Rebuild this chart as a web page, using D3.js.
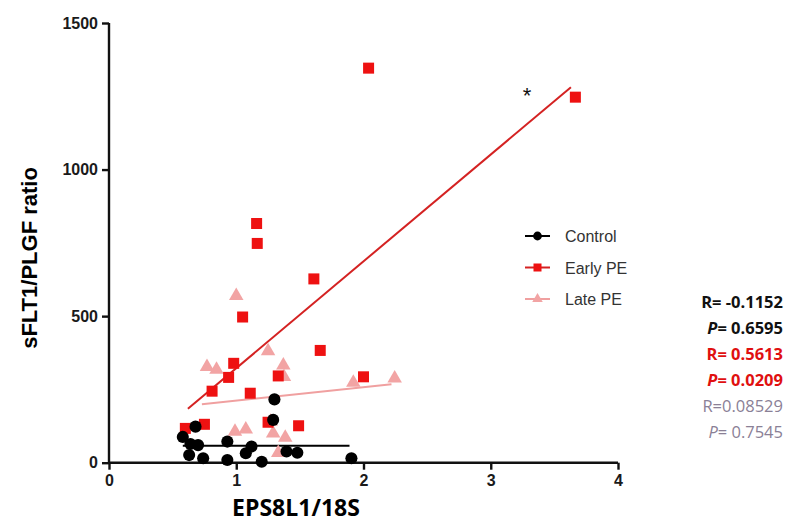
<!DOCTYPE html>
<html>
<head>
<meta charset="utf-8">
<script src="https://cdn.jsdelivr.net/npm/d3@7"></script>
<style>
  body { margin: 0; background: #fff; }
  svg { font-family: "Liberation Sans", Arial, sans-serif; }
</style>
</head>
<body>
<svg id="chart" width="785" height="522"></svg>
<script>
// values
const controlPts = [
  [0.58, 88], [0.68, 123], [0.64, 64], [0.70, 60], [0.63, 26], [0.74, 15],
  [0.93, 72], [0.93, 9], [1.12, 55], [1.075, 32], [1.20, 3], [1.30, 216],
  [1.29, 146], [1.395, 38], [1.48, 34], [1.905, 15]
];
const earlyPts = [
  [0.60, 117], [0.75, 131], [0.81, 244], [0.94, 291], [0.98, 339], [1.05, 497],
  [1.11, 237], [1.16, 816], [1.165, 748], [1.25, 138], [1.33, 296], [1.49, 126],
  [1.61, 627], [1.66, 383], [2.00, 293], [2.04, 1346], [3.665, 1247]
];
const latePts = [
  [0.77, 327], [0.845, 318], [1.00, 569], [1.25, 381], [1.37, 332], [1.375, 293],
  [0.99, 106], [1.075, 114], [1.29, 100], [1.385, 86], [1.33, 34], [1.27, 140],
  [1.92, 273], [2.245, 288]
];
// fitted lines (start, end)
const controlFit = [[0.58, 58], [1.89, 58]];
const earlyFit = [[0.62, 184], [3.63, 1281]];
const lateFit = [[0.73, 199], [2.22, 268]];

const xTicks = [0, 1, 2, 3, 4];
const yTicks = [0, 500, 1000, 1500];
const legendNames = ["Control", "Early PE", "Late PE"];
const statLines = [
  {r: "R=", v: " -0.1152", italic: false},
  {r: "P", v: "= 0.6595", italic: true},
  {r: "R=", v: " 0.5613", italic: false},
  {r: "P", v: "= 0.0209", italic: true},
  {r: "R=", v: "0.08529", italic: false},
  {r: "P", v: "= 0.7545", italic: true}
];

const colors = {"Control": "#000000", "Early PE": "#ee1111", "Late PE": "#f2a4a4"};
const lineColors = {"Control": "#000000", "Early PE": "#d42222", "Late PE": "#f0a0a0"};

const svg = d3.select("#chart");
const margin = {left: 109, top: 23, right: 167, bottom: 59};

const x = d3.scaleLinear().domain([0, 4]).range([margin.left, 618]);
const y = d3.scaleLinear().domain([0, 1500]).range([462.7, margin.top]);

// axes
const xAxis = svg.append("g")
  .attr("transform", "translate(0," + y(0) + ")")
  .call(d3.axisBottom(x).tickValues(xTicks).tickSize(7).tickPadding(5).tickFormat(d3.format("d")));
const yAxis = svg.append("g")
  .attr("transform", "translate(" + x(0) + ",0)")
  .call(d3.axisLeft(y).tickValues(yTicks).tickSize(7).tickPadding(4).tickFormat(d3.format("d")));

[xAxis, yAxis].forEach(a => {
  a.select(".domain").attr("stroke", "#111").attr("stroke-width", 2.4);
  a.selectAll(".tick line").attr("stroke", "#111").attr("stroke-width", 2.4);
  a.selectAll(".tick text").attr("fill", "#1a1a1a")
    .style("font-family", "'Liberation Sans', Arial, sans-serif")
    .style("font-size", "16px").style("font-weight", "bold");
});
// plain spines, no outer ticks
xAxis.select(".domain").attr("d", "M" + x(0) + ",0H" + x(4));
yAxis.select(".domain").attr("d", "M0," + y(0) + "V" + y(1500));

// axis titles
svg.append("text")
  .attr("x", 296).attr("y", 516)
  .attr("text-anchor", "middle")
  .style("font-family", "'Open Sans', sans-serif")
  .style("font-size", "23px").style("font-weight", "bold")
  .attr("fill", "#000")
  .text("EPS8L1/18S");

svg.append("text")
  .attr("transform", "translate(37,258) rotate(-90)")
  .attr("text-anchor", "middle")
  .style("font-family", "'Liberation Sans', Arial, sans-serif")
  .style("font-size", "22px").style("font-weight", "bold")
  .attr("fill", "#000")
  .text("sFLT1/PLGF ratio");

// fit lines
const line = d3.line().x(d => x(d[0])).y(d => y(d[1]));
const fits = [["Late PE", lateFit], ["Control", controlFit], ["Early PE", earlyFit]];
svg.append("g").selectAll("path")
  .data(fits)
  .enter()
  .append("path")
  .attr("d", d => line(d[1]))
  .attr("fill", "none")
  .attr("stroke", d => lineColors[d[0]])
  .attr("stroke-width", 2);

// points
function drawMarker(sel, name, size){
  if (name === "Control"){
    sel.append("circle").attr("r", size * 0.55).attr("fill", colors[name]);
  } else if (name === "Early PE"){
    sel.append("rect")
      .attr("x", -size / 2).attr("y", -size / 2)
      .attr("width", size).attr("height", size)
      .attr("fill", colors[name]);
  } else {
    sel.append("path")
      .attr("d", d3.symbol().type(d3.symbolTriangle).size(size * size * 0.75)())
      .attr("fill", colors[name]);
  }
}

const groups = [["Late PE", latePts], ["Early PE", earlyPts], ["Control", controlPts]];
groups.forEach(g => {
  svg.append("g").selectAll("g.pt")
    .data(g[1])
    .enter()
    .append("g")
    .attr("class", "pt")
    .attr("transform", d => "translate(" + x(d[0]) + "," + y(d[1]) + ")")
    .each(function(){ drawMarker(d3.select(this), g[0], 11); });
});

// asterisk
svg.append("text")
  .attr("x", 527).attr("y", 103)
  .attr("text-anchor", "middle")
  .style("font-size", "22px")
  .attr("fill", "#111")
  .text("*");

// legend
const legend = svg.append("g").attr("transform", "translate(525,236)");
const items = legend.selectAll("g")
  .data(legendNames)
  .enter()
  .append("g")
  .attr("transform", (d, i) => "translate(0," + (i * 31.5) + ")");
items.append("line")
  .attr("x1", 0).attr("x2", 25)
  .attr("stroke", d => lineColors[d])
  .attr("stroke-width", 2);
items.each(function(d){
  const g = d3.select(this).append("g").attr("transform", "translate(12.5,0)");
  drawMarker(g, d, 8);
});
items.append("text")
  .attr("x", 40).attr("dy", 6)
  .style("font-size", "16px")
  .attr("fill", "#333")
  .text(d => d);

// correlation stats
const statColors = ["#111", "#111", "#e01010", "#e01010", "#8a8096", "#8a8096"];
const stats = svg.append("g")
  .style("font-family", "'Open Sans', sans-serif")
  .style("font-size", "16.5px");
stats.selectAll("text")
  .data(statLines)
  .enter()
  .append("text")
  .attr("x", 783)
  .attr("y", (d, i) => 308 + i * 26)
  .attr("text-anchor", "end")
  .attr("fill", (d, i) => statColors[i])
  .style("font-weight", (d, i) => i < 4 ? "bold" : "normal")
  .each(function(d){
    const t = d3.select(this);
    t.append("tspan").style("font-style", d.italic ? "italic" : "normal").text(d.r);
    t.append("tspan").text(d.v);
  });
</script>
</body>
</html>
